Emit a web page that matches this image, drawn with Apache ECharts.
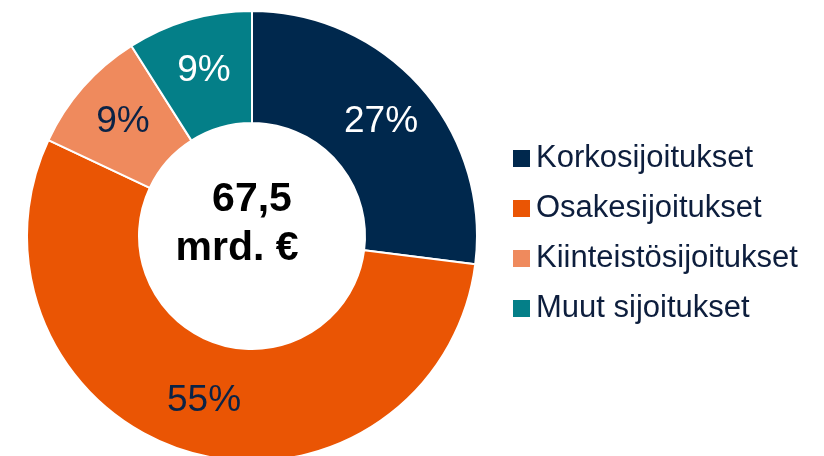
<!DOCTYPE html>
<html>
<head>
<meta charset="utf-8">
<script src="https://cdn.jsdelivr.net/npm/echarts@6/dist/echarts.min.js"></script>
<style>
  html, body { margin: 0; padding: 0; background: #fff; }
  #chart { width: 824px; height: 456px; }
</style>
</head>
<body>
<div id="chart"></div>
<script>
const categories = ['Korkosijoitukset', 'Osakesijoitukset', 'Kiinteistösijoitukset', 'Muut sijoitukset'];
const shares = [27, 55, 9, 9];
const sliceColors = ['#00284d', '#ea5504', '#ef8a5d', '#047f88'];
const labelColors = ['#ffffff', '#0b2346', '#0b2346', '#ffffff'];
const centerLines = ['67,5', 'mrd. €'];

const font = '"Liberation Sans", Arial, sans-serif';
var myChart = echarts.init(document.getElementById('chart'));

const data = categories.map((name, i) => ({
    name: name,
    value: shares[i],
    itemStyle: {color: sliceColors[i]},
    label: {color: labelColors[i]}
}));

const option = {
    animation: false,
    legend: {
        orient: 'vertical',
        left: 506,
        top: 138,
        icon: 'rect',
        itemWidth: 19,
        itemHeight: 19,
        itemGap: 19,
        textStyle: {
            fontFamily: font,
            fontSize: 31,
            lineHeight: 31,
            color: '#0d1e3d'
        },
        data: categories
    },
    graphic: [
        {
            type: 'text',
            style: {
                text: centerLines[0],
                x: 252, y: 200,
                align: 'center', verticalAlign: 'middle',
                font: 'bold 41px ' + font,
                fill: '#000'
            }
        },
        {
            type: 'text',
            style: {
                text: centerLines[1],
                x: 237, y: 249,
                align: 'center', verticalAlign: 'middle',
                font: 'bold 41px ' + font,
                fill: '#000'
            }
        }
    ],
    series: [{
        type: 'pie',
        center: [252, 236],
        radius: [113, 225],
        startAngle: 90,
        clockwise: true,
        avoidLabelOverlap: false,
        silent: true,
        itemStyle: {borderColor: '#fff', borderWidth: 2},
        label: {
            show: true,
            position: 'inside',
            formatter: '{c}%',
            fontFamily: font,
            fontSize: 37
        },
        labelLine: {show: false},
        data: data
    }]
};
myChart.setOption(option);
</script>
</body>
</html>
